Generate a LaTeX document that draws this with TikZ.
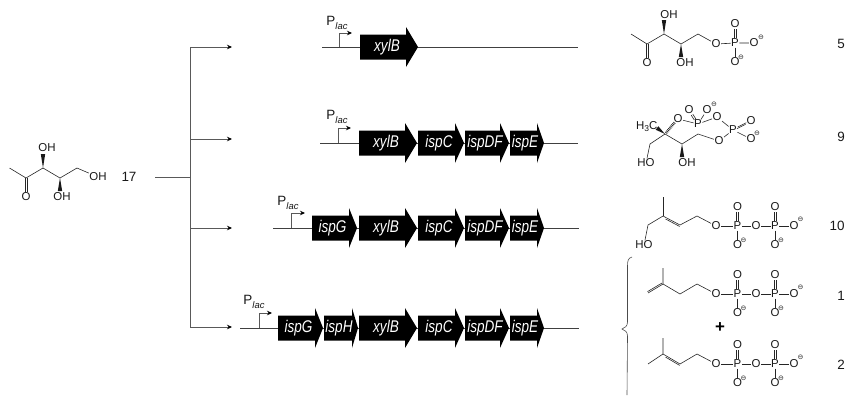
\documentclass[tikz,border=0pt]{standalone}
\usepackage{fontspec}
\usepackage{graphicx}
\setmainfont{Liberation Sans}
\newfontfamily\djv{DejaVu Sans}
\usetikzlibrary{arrows.meta,calc}
\tikzset{
  atom/.style={font=\fontsize{11.5}{11.5}\selectfont,inner sep=0.4pt,text=black!90},
  chg/.style={font=\djv\fontsize{7}{7}\selectfont,inner sep=0pt,text=black!85},
  num/.style={font=\fontsize{13.5}{13.5}\selectfont,inner sep=0pt,text=black!90},
  genelab/.style={font=\itshape\fontsize{17}{17}\selectfont,text=white,inner sep=0pt},
  plab/.style={font=\fontsize{13.5}{13.5}\selectfont,inner sep=0pt,text=black!90},
  bond/.style={draw=black!85,line width=0.6pt},
  branch/.style={draw=black!65,line width=0.7pt},
  feed/.style={branch,-{Stealth[length=5pt,width=4.5pt,black]}},
  dnaline/.style={draw=black!75,line width=0.7pt},
  prom/.style={draw=black!65,line width=0.7pt,-{Stealth[length=5pt,width=4.5pt,black]}},
}
\newcommand{\gene}[6]{%
  \fill[black] (#2,#5-12.5) -- (#3,#5-12.5) -- (#3,#5-20) -- (#4,#5) -- (#3,#5+20) -- (#3,#5+12.5) -- (#2,#5+12.5) -- cycle;
  \node[genelab] (#1) at ({(#2+#4)/2-2},#5) {\scalebox{0.8}[1]{#6}};}
\newcommand{\wdg}[2]{\fill[black!90] (#1) -- ($(#2)!2.2pt!90:(#1)$) -- ($(#2)!2.2pt!-90:(#1)$) -- cycle;}
% double bond between two named points, the two strokes shifted by +-(dx,dy)
\newcommand{\dbond}[4]{%
  \draw[bond,transform canvas={xshift=#3pt,yshift=#4pt}] (#1) -- (#2);
  \draw[bond,transform canvas={xshift=-#3pt,yshift=-#4pt}] (#1) -- (#2);}
\newcommand{\promoter}[7]{% name, xv, ybase, ytop, xarrow, xlabel, ylabel
  \coordinate (#1b) at (#2,#3);
  \coordinate (#1t) at (#2,#4);
  \coordinate (#1e) at (#5,#4);
  \draw[prom] (#1b) -- (#1t) -- (#1e);
  \node[plab] (#1l) at (#6,#7) {P\raisebox{-3.5pt}{\fontsize{9.5}{9.5}\selectfont\itshape lac}};}
\newcommand{\diphos}[3]{%
  \node[atom] (#1a) at (#2,#3) {O};
  \node[atom] (#1p) at (#2+21.5,#3) {P};
  \node[atom] (#1pt) at (#2+21.5,#3-19) {O};
  \node[atom] (#1pb) at (#2+21.5,#3+19) {O};
  \node[chg] (#1pc) at (#2+27.5,#3+14) {⊖};
  \node[atom] (#1b) at (#2+40,#3) {O};
  \node[atom] (#1q) at (#2+59,#3) {P};
  \node[atom] (#1qt) at (#2+59,#3-19) {O};
  \node[atom] (#1qb) at (#2+59,#3+19) {O};
  \node[chg] (#1qc) at (#2+65,#3+14) {⊖};
  \node[atom] (#1r) at (#2+78,#3) {O};
  \node[chg] (#1rc) at (#2+84.5,#3-6.5) {⊖};
  \draw[bond] (#1a) -- (#1p) -- (#1b) -- (#1q) -- (#1r);
  \draw[bond] (#1p) -- (#1pb);
  \draw[bond] (#1q) -- (#1qb);
  \dbond{#1p}{#1pt}{0.9}{0}
  \dbond{#1q}{#1qt}{0.9}{0}}
\begin{document}
\begin{tikzpicture}[x=1bp,y=-1bp]
\useasboundingbox (0,0) rectangle (846,396);
% ---- feed branch
\node[num] (n17) at (129,177) {17};
\coordinate (bstart) at (155,177);
\coordinate (bj) at (190,177);
\coordinate (b1) at (190,47);
\coordinate (b2) at (190,139);
\coordinate (b3) at (190,228);
\coordinate (b4) at (190,327);
\coordinate (e1) at (232,47);
\coordinate (e2) at (232,139);
\coordinate (e3) at (232,228);
\coordinate (e4) at (232,327);
\draw[branch] (bstart) -- (bj);
\draw[branch] (b1) -- (b4);
\draw[feed] (b1) -- (e1);
\draw[feed] (b2) -- (e2);
\draw[feed] (b3) -- (e3);
\draw[feed] (b4) -- (e4);
% ---- operons
\coordinate (l1a) at (322,47); \coordinate (l1b) at (578,47);
\coordinate (l2a) at (320,143); \coordinate (l2b) at (578,143);
\coordinate (l3a) at (273,228); \coordinate (l3b) at (579,228);
\coordinate (l4a) at (240,328); \coordinate (l4b) at (579,328);
\draw[dnaline] (l1a) -- (l1b);
\draw[dnaline] (l2a) -- (l2b);
\draw[dnaline] (l3a) -- (l3b);
\draw[dnaline] (l4a) -- (l4b);
\promoter{pa}{339}{47}{33}{352}{337}{23}
\promoter{pb}{338}{143}{128}{351}{337}{117}
\promoter{pc}{291}{228}{213}{305}{288}{203}
\promoter{pd}{259}{328}{313}{272}{254}{302}
\gene{ax}{360}{406}{418}{47}{xylB}
\gene{bx}{359}{405}{417}{143}{xylB}
\gene{bc}{418}{455}{464}{143}{ispC}
\gene{bd}{465}{500}{509}{143}{ispDF}
\gene{be}{510}{537}{544}{143}{ispE}
\gene{cg}{312}{349}{357}{228}{ispG}
\gene{cx}{359}{405}{417}{228}{xylB}
\gene{cc}{418}{455}{464}{228}{ispC}
\gene{cd}{465}{500}{509}{228}{ispDF}
\gene{ce}{510}{537}{544}{228}{ispE}
\gene{dg}{278}{315}{323}{328}{ispG}
\gene{dh}{324}{352}{358}{328}{ispH}
\gene{dx}{359}{405}{417}{328}{xylB}
\gene{dc}{418}{455}{464}{328}{ispC}
\gene{dd}{465}{500}{509}{328}{ispDF}
\gene{de}{510}{537}{544}{328}{ispE}
% ---- molecule 17
\coordinate (s1) at (9.5,168); \coordinate (s2) at (26,178); \coordinate (s3) at (43,168);
\coordinate (s4) at (60,178); \coordinate (s5) at (77,168);
\node[atom] (so) at (26,197) {O};
\node[atom] (sa) at (47,148) {OH};
\node[atom] (sb) at (62,197) {OH};
\node[atom] (sc) at (98,177) {OH};
\coordinate (sat) at (43,154); \coordinate (sbt) at (60,191);
\draw[bond] (s1) -- (s2) -- (s3) -- (s4) -- (s5) -- (sc);
\dbond{s2}{so}{0.9}{0}
\wdg{s3}{sat}\wdg{s4}{sbt}
% ---- molecule 5
\coordinate (f1) at (631,34); \coordinate (f2) at (647,44); \coordinate (f3) at (664,34);
\coordinate (f4) at (681,44); \coordinate (f5) at (698,34);
\node[atom] (fo) at (647,63) {O};
\node[atom] (fa) at (669,15) {OH};
\node[atom] (fb) at (685,63) {OH};
\node[atom] (fe) at (716,44) {O};
\node[atom] (fp) at (735,43) {P};
\node[atom] (ft) at (735,24) {O};
\node[atom] (fr) at (754,43) {O};
\node[atom] (fu) at (735,62) {O};
\node[chg] (fc1) at (761,37) {⊖};
\node[chg] (fc2) at (741,57) {⊖};
\coordinate (fat) at (664,20); \coordinate (fbt) at (681,57);
\draw[bond] (f1) -- (f2) -- (f3) -- (f4) -- (f5) -- (fe) -- (fp) -- (fr);
\draw[bond] (fp) -- (fu);
\dbond{f2}{fo}{0.9}{0}
\dbond{fp}{ft}{0.9}{0}
\wdg{f3}{fat}\wdg{f4}{fbt}
% ---- molecule 9
\coordinate (g1) at (665,134); \coordinate (g2) at (682,144); \coordinate (g3) at (698,134);
\coordinate (g4) at (650,144);
\node[atom,anchor=east] (gm) at (658,127) {H\raisebox{-2pt}{\fontsize{8.5}{8.5}\selectfont 3}C};
\node[atom] (go) at (678,119) {O};
\node[atom] (gp) at (698,124) {P};
\node[atom] (gt) at (689,110) {O};
\node[atom] (gu) at (707,110) {O};
\node[chg] (guc) at (714,104) {⊖};
\node[atom] (gv) at (717,117) {O};
\node[atom] (gq) at (733,130) {P};
\node[atom] (gw) at (751,121) {O};
\node[atom] (gx) at (751,139) {O};
\node[chg] (gxc) at (757,133) {⊖};
\node[atom] (gy) at (719,141) {O};
\node[atom] (gh1) at (646,163) {HO};
\node[atom] (gh2) at (687,163) {OH};
\coordinate (g2t) at (682,157);
\coordinate (gmt) at (657,128);
\draw[bond] (g4) -- (g1) -- (g2) -- (g3) -- (gy) -- (gq) -- (gv) -- (gp) -- (go);
\draw[bond] (gp) -- (gu);
\draw[bond] (gq) -- (gx);
\draw[bond] (g4) -- (gh1);
\dbond{gp}{gt}{0.8}{0.5}
\dbond{gq}{gw}{0.4}{0.8}
\wdg{g1}{gmt}\wdg{g2}{g2t}
\draw[black!90,line width=2.6pt,dash pattern=on 0.7pt off 0.9pt] ($(g1)+(1,-1)$) -- ($(go)+(-3,3)$);
% ---- molecule 10
\coordinate (h1) at (663,197); \coordinate (h2) at (663,216); \coordinate (h3) at (680,225);
\coordinate (h4) at (697,216); \coordinate (h5) at (648,225);
\node[atom] (hh) at (644,245) {HO};
\draw[bond] (h1) -- (h2);
\draw[bond] (h2) -- (h5) -- (hh);
\draw[bond] (h3) -- (h4);
\draw[bond] (h2) -- (h3);
\draw[bond,transform canvas={xshift=0.5pt,yshift=-1.9pt}] ($(h2)!0.12!(h3)$) -- ($(h2)!0.95!(h3)$);
\diphos{hd}{716}{226}
\draw[bond] (h4) -- (hda);
% ---- molecule 1
\coordinate (i1) at (648,293); \coordinate (i2) at (663,284); \coordinate (i3) at (663,268);
\coordinate (i4) at (680,294); \coordinate (i5) at (697,284);
\draw[bond] (i1) -- (i2);
\draw[bond,transform canvas={xshift=0.5pt,yshift=1.9pt}] ($(i1)+(-1,0.5)$) -- ($(i2)!0.1!(i1)$);
\draw[bond] (i3) -- (i2) -- (i4) -- (i5);
\diphos{id}{716}{294}
\draw[bond] (i5) -- (ida);
% ---- plus
\node[font=\bfseries\fontsize{17}{17}\selectfont,inner sep=0pt] (plus) at (720,328) {+};
% ---- molecule 2
\coordinate (j1) at (648,364); \coordinate (j2) at (663,354); \coordinate (j3) at (663,338);
\coordinate (j4) at (680,364); \coordinate (j5) at (697,354);
\draw[bond] (j1) -- (j2) -- (j3);
\draw[bond] (j2) -- (j4);
\draw[bond,transform canvas={xshift=0.5pt,yshift=-1.9pt}] ($(j2)!0.12!(j4)$) -- ($(j2)!0.95!(j4)$);
\draw[bond] (j4) -- (j5);
\diphos{jd}{716}{364}
\draw[bond] (j5) -- (jda);
% ---- numbers
\node[num] (n5) at (841,44) {5};
\node[num] (n9) at (841,137) {9};
\node[num] (n10) at (837,226) {10};
\node[num] (n1) at (841,296) {1};
\node[num] (n2) at (841,365) {2};
% ---- brace
\coordinate (bt) at (632,257); \coordinate (bm) at (622,329); \coordinate (bb) at (627,395);
\draw[draw=black!70,line width=0.6pt] (bt) .. controls (628,258) and (627.5,261) .. (627.5,266) -- (627.5,322) .. controls (627.5,326) and (625,328) .. (bm) .. controls (625,330) and (627.5,332) .. (627.5,336) -- (bb);
\end{tikzpicture}
\end{document}
